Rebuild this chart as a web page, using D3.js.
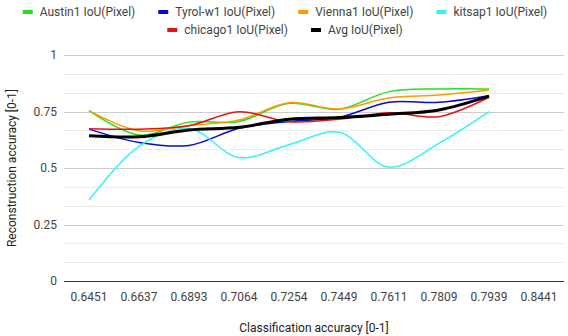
<!DOCTYPE html>
<html>
<head>
<meta charset="utf-8">
<script src="https://cdn.jsdelivr.net/npm/d3@7"></script>
<style>
  body { margin: 0; background: #fff; }
  text { font-family: Roboto, "Noto Sans", sans-serif; }
</style>
</head>
<body>
<script>
// categories on the x axis (classification accuracy)
const categories = ["0.6451", "0.6637", "0.6893", "0.7064", "0.7254", "0.7449", "0.7611", "0.7809", "0.7939", "0.8441"];

// IoU per city, one value per category (last category has no data)
const austin  = [0.754, 0.646, 0.703, 0.706, 0.786, 0.760, 0.838, 0.850, 0.850];
const tyrol   = [0.672, 0.613, 0.600, 0.676, 0.706, 0.724, 0.791, 0.791, 0.820];
const vienna  = [0.754, 0.664, 0.688, 0.712, 0.789, 0.761, 0.810, 0.823, 0.845];
const kitsap  = [0.358, 0.596, 0.675, 0.546, 0.603, 0.658, 0.504, 0.609, 0.749];
const chicago = [0.674, 0.672, 0.687, 0.749, 0.705, 0.716, 0.744, 0.727, 0.813];
const avg     = [0.643, 0.638, 0.668, 0.680, 0.716, 0.723, 0.738, 0.757, 0.818];

const seriesNames = ["Austin1 IoU(Pixel)", "Tyrol-w1 IoU(Pixel)", "Vienna1 IoU(Pixel)", "kitsap1 IoU(Pixel)", "chicago1 IoU(Pixel)", "Avg IoU(Pixel)"];
const yTicks = [0, 0.25, 0.5, 0.75, 1];
const yTickLabels = ["0", "0.25", "0.5", "0.75", "1"];

const series = [
  { name: seriesNames[0], values: austin,  color: "#22e022", width: 1.5 },
  { name: seriesNames[1], values: tyrol,   color: "#0a0acc", width: 1.5 },
  { name: seriesNames[2], values: vienna,  color: "#ff9900", width: 1.5 },
  { name: seriesNames[3], values: kitsap,  color: "#33f5f5", width: 1.5 },
  { name: seriesNames[4], values: chicago, color: "#ee1111", width: 1.5 },
  { name: seriesNames[5], values: avg,     color: "#000000", width: 3 }
];

const width = 568, height = 336;
const plotLeft = 64, plotRight = 564, plotTop = 55, plotBottom = 281;

const svg = d3.select("body").append("svg")
  .attr("width", width)
  .attr("height", height);

const x = d3.scaleBand().domain(categories).range([plotLeft, plotRight]);
const y = d3.scaleLinear().domain([0, 1]).range([plotBottom, plotTop]);

// minor gridlines (two between each major)
const minor = d3.range(0, 12).map(i => i / 12).filter(v => Math.round(v * 12) % 3 !== 0);
svg.selectAll(".minor").data(minor).enter().append("line")
  .attr("x1", plotLeft).attr("x2", plotRight)
  .attr("y1", d => Math.round(y(d)) + 0.5).attr("y2", d => Math.round(y(d)) + 0.5)
  .attr("stroke", "#ebebeb");

// major gridlines
svg.selectAll(".major").data(yTicks.slice(1)).enter().append("line")
  .attr("x1", plotLeft).attr("x2", plotRight)
  .attr("y1", d => Math.round(y(d)) + 0.5).attr("y2", d => Math.round(y(d)) + 0.5)
  .attr("stroke", "#cccccc");

// y tick labels
svg.selectAll(".ylab").data(yTicks).enter().append("text")
  .attr("x", plotLeft - 7)
  .attr("y", d => y(d) + 4)
  .attr("text-anchor", "end")
  .attr("font-size", 12)
  .attr("fill", "#444")
  .text((d, i) => yTickLabels[i]);

// x tick labels
svg.selectAll(".xlab").data(categories).enter().append("text")
  .attr("x", d => x(d) + x.bandwidth() / 2)
  .attr("y", plotBottom + 20)
  .attr("text-anchor", "middle")
  .attr("font-size", 12)
  .attr("fill", "#444")
  .text(d => d);

// lines
const line = d3.line()
  .x((d, i) => x(categories[i]) + x.bandwidth() / 2)
  .y(d => y(d))
  .curve(d3.curveCatmullRom);

svg.selectAll(".series").data(series).enter().append("path")
  .attr("d", d => line(d.values))
  .attr("fill", "none")
  .attr("stroke", d => d.color)
  .attr("stroke-width", d => d.width)
  .attr("stroke-linejoin", "round");

// baseline
svg.append("line")
  .attr("x1", plotLeft).attr("x2", plotRight)
  .attr("y1", Math.round(y(0)) + 0.5).attr("y2", Math.round(y(0)) + 0.5)
  .attr("stroke", "#333");

// axis titles
svg.append("text")
  .attr("x", (plotLeft + plotRight) / 2)
  .attr("y", 332)
  .attr("text-anchor", "middle")
  .attr("font-size", 12)
  .attr("fill", "#222")
  .text("Classification accuracy [0-1]");

svg.append("text")
  .attr("transform", "translate(16," + ((plotTop + plotBottom) / 2) + ") rotate(-90)")
  .attr("text-anchor", "middle")
  .attr("font-size", 12)
  .attr("fill", "#222")
  .text("Reconstruction accuracy [0-1]");

// legend: two centred rows
const rows = [series.slice(0, 4), series.slice(4)];
const rowY = [12, 30];
const itemGap = 23;
rows.forEach((items, r) => {
  const g = svg.append("g");
  let cx = 0;
  items.forEach(s => {
    const item = g.append("g").attr("transform", "translate(" + cx + ",0)");
    item.append("rect")
      .attr("x", 0).attr("y", rowY[r] - 2)
      .attr("width", 10).attr("height", 4)
      .attr("fill", s.color);
    const t = item.append("text")
      .attr("x", 17).attr("y", rowY[r] + 4)
      .attr("font-size", 12)
      .attr("fill", "#444")
      .text(s.name);
    cx += 17 + t.node().getComputedTextLength() + itemGap;
  });
  const total = cx - itemGap;
  g.attr("transform", "translate(" + (285 - total / 2) + ",0)");
});
</script>
</body>
</html>
